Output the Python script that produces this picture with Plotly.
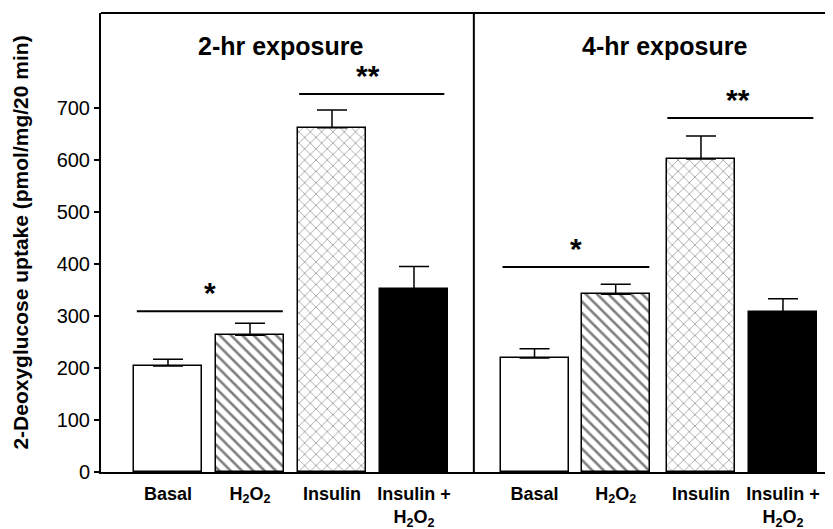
import plotly.graph_objects as go

# ---- data ----
treatments = ["Basal", "H2O2", "Insulin", "Insulin + H2O2"]
tick_labels = ["<b>Basal</b>", "<b>H<sub>2</sub>O<sub>2</sub></b>", "<b>Insulin</b>",
               "<b>Insulin +</b><br><b>H<sub>2</sub>O<sub>2</sub></b>"]
positions_2hr = [1.0, 2.0, 3.0, 4.0]
positions_4hr = [5.47, 6.46, 7.5, 8.5]
values_2hr = [204, 263, 662, 351]
errors_2hr = [13, 23, 34, 44]
values_4hr = [219, 342, 602, 307]
errors_4hr = [18, 19, 44, 26]
panel_titles = ["2-hr exposure", "4-hr exposure"]
panel_title_x = [2.37, 7.06]
# significance brackets
sig_x0 = [0.62, 2.6, 5.08, 7.09]
sig_x1 = [2.4, 4.37, 6.87, 8.87]
sig_y = [309, 727, 394, 681]
sig_text = ["*", "**", "*", "**"]
sig_text_x = [1.51, 3.44, 5.97, 7.95]

divider_x = 4.73
font = "Liberation Sans, Arial, sans-serif"

styles = [
    dict(color="white", pattern=None),
    dict(color="white", pattern=dict(shape="\\", fgcolor="black", bgcolor="white", size=8, solidity=0.32)),
    dict(color="white", pattern=dict(shape="x", fgcolor="#505050", bgcolor="white", size=8, solidity=0.22)),
    dict(color="black", pattern=None),
]

fig = go.Figure()
for i, name in enumerate(treatments):
    marker = dict(color=styles[i]["color"], line=dict(color="black", width=1.5))
    if styles[i]["pattern"] is not None:
        marker["pattern"] = styles[i]["pattern"]
    fig.add_trace(go.Bar(
        x=[positions_2hr[i], positions_4hr[i]],
        y=[values_2hr[i], values_4hr[i]],
        width=0.83,
        name=name,
        marker=marker,
        error_y=dict(type="data", symmetric=False,
                     array=[errors_2hr[i], errors_4hr[i]], arrayminus=[0, 0],
                     color="black", thickness=1.5, width=15),
        showlegend=False,
    ))

# significance lines and stars
for x0, x1, y, t, tx in zip(sig_x0, sig_x1, sig_y, sig_text, sig_text_x):
    fig.add_shape(type="line", x0=x0, x1=x1, y0=y, y1=y, xref="x", yref="y",
                  line=dict(color="black", width=2))
    fig.add_annotation(x=tx, y=y, xref="x", yref="y", text="<b>" + t + "</b>",
                       showarrow=False, yanchor="bottom", yshift=0,
                       font=dict(family=font, size=30, color="black"))

# panel titles
for t, cx in zip(panel_titles, panel_title_x):
    fig.add_annotation(x=cx, y=0.928, xref="x", yref="paper", text="<b>" + t + "</b>",
                       showarrow=False, yanchor="middle",
                       font=dict(family=font, size=25, color="black"))

# frame: top line and divider
fig.add_shape(type="line", x0=0, x1=1, y0=1, y1=1, xref="paper", yref="paper",
              line=dict(color="black", width=2))
fig.add_shape(type="line", x0=divider_x, x1=divider_x, y0=0, y1=1, xref="x", yref="paper",
              line=dict(color="black", width=2))

fig.update_layout(
    width=825, height=521,
    margin=dict(l=93, r=0, t=5, b=57),
    paper_bgcolor="white", plot_bgcolor="white",
    font=dict(family=font, color="black"),
    bargap=0,
    xaxis=dict(range=[0.183, 9.11], tickvals=positions_2hr + positions_4hr,
               ticktext=tick_labels + tick_labels, showline=True, linecolor="black",
               linewidth=2, ticks="", showgrid=False, zeroline=False,
               automargin=False, ticklabelstandoff=4,
               tickfont=dict(family=font, size=18, color="black")),
    yaxis=dict(range=[0, 882.7], tickvals=[0, 100, 200, 300, 400, 500, 600, 700],
               showline=True, linecolor="black", linewidth=2, ticks="outside",
               ticklen=5, tickwidth=1.5, tickcolor="black", showgrid=False, zeroline=False,
               automargin=False,
               tickfont=dict(family=font, size=20, color="black"),
               title=dict(text="<b>2-Deoxyglucose uptake (pmol/mg/20 min)</b>",
                          font=dict(family=font, size=21, color="black"), standoff=22)),
)

fig.write_html("out.html")
